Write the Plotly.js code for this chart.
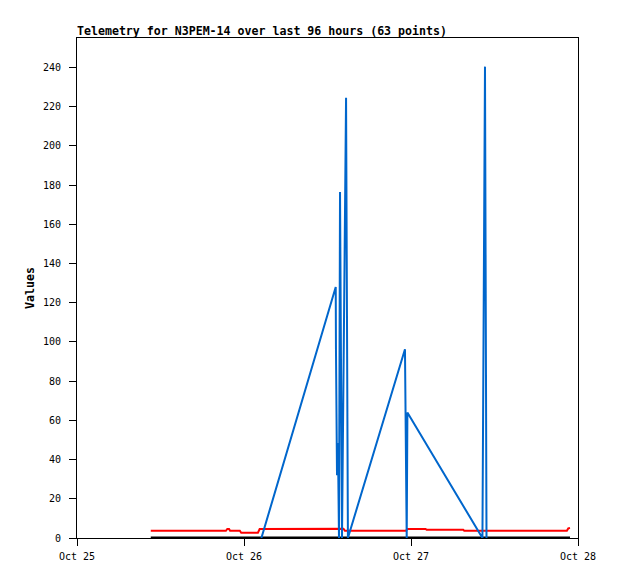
<!DOCTYPE html>
<html>
<head>
<meta charset="utf-8">
<script src="https://cdn.plot.ly/plotly-3.0.1.min.js"></script>
<style>html,body{margin:0;padding:0;background:#fff;}#chart{width:618px;height:579px;}</style>
</head>
<body>
<div id="chart"></div>
<script>
// Series 1 (red)
const redTimes = ["2023-10-25 10:36","2023-10-25 21:24","2023-10-25 21:36","2023-10-25 21:51","2023-10-25 22:00","2023-10-25 23:24","2023-10-25 23:36","2023-10-26 02:00","2023-10-26 02:15","2023-10-26 14:18","2023-10-26 14:30","2023-10-26 23:18","2023-10-26 23:27","2023-10-27 02:06","2023-10-27 02:15","2023-10-27 07:30","2023-10-27 07:39","2023-10-27 22:24","2023-10-27 22:36","2023-10-27 22:51"];
const redValues = [3.7,3.7,4.6,4.6,3.7,3.7,2.7,2.7,4.6,4.7,3.7,3.7,4.6,4.6,4.2,4.2,3.7,3.7,4.9,5.1];
// Series 2 (black)
const blackTimes = ["2023-10-25 10:36","2023-10-26 12:00","2023-10-27 22:51"];
const blackValues = [0,0,0];
// Series 3 (blue)
const blueTimes = ["2023-10-26 02:30","2023-10-26 13:11","2023-10-26 13:13","2023-10-26 13:22","2023-10-26 13:30","2023-10-26 13:39","2023-10-26 13:48","2023-10-26 13:56","2023-10-26 14:05","2023-10-26 14:40","2023-10-26 14:48","2023-10-26 14:56","2023-10-26 23:08","2023-10-26 23:11","2023-10-26 23:17","2023-10-26 23:23","2023-10-26 23:29","2023-10-27 10:16","2023-10-27 10:38","2023-10-27 10:46","2023-10-27 10:51"];
const blueValues = [0,128,96,32,48.5,0,176.5,88,0,224.5,112,0,96.3,72,24.5,0,64,0,240.4,120.5,0];

const xTickVals = ["2023-10-25","2023-10-26","2023-10-27","2023-10-28"];
const xTickText = ["Oct 25","Oct 26","Oct 27","Oct 28"];
const titleText = "Telemetry for N3PEM-14 over last 96 hours (63 points)";
const yTitle = "Values";

const traces = [
  {x: redTimes, y: redValues, type: "scatter", mode: "lines", line: {color: "#ff0000", width: 2}, cliponaxis: false, hoverinfo: "skip"},
  {x: blackTimes, y: blackValues, type: "scatter", mode: "lines", line: {color: "#000000", width: 3}, cliponaxis: false, hoverinfo: "skip"},
  {x: blueTimes, y: blueValues, type: "scatter", mode: "lines", line: {color: "#0066cc", width: 2}, cliponaxis: false, hoverinfo: "skip"}
];

const layout = {
  width: 618, height: 579,
  paper_bgcolor: "#ffffff", plot_bgcolor: "#ffffff",
  showlegend: false,
  margin: {l: 77, r: 40, t: 38, b: 41, pad: 0},
  font: {family: "DejaVu Sans Mono", size: 10, color: "#000"},
  title: {text: "<b>" + titleText + "</b>", font: {family: "DejaVu Sans Mono", size: 11.6, color: "#000"},
          xref: "paper", x: 0, xanchor: "left", yref: "container", y: 1 - 31/579, yanchor: "middle"},
  xaxis: {type: "date", range: ["2023-10-25", "2023-10-28"], tickmode: "array", tickvals: xTickVals, ticktext: xTickText,
          showgrid: false, zeroline: false, showline: true, linecolor: "#000", linewidth: 1, mirror: true,
          ticks: "outside", ticklen: 7, tickcolor: "#000", tickfont: {family: "DejaVu Sans Mono", size: 10, color: "#000"}, ticklabelstandoff: 2},
  yaxis: {range: [0, 255], tickmode: "linear", tick0: 0, dtick: 20,
          showgrid: false, zeroline: false, showline: true, linecolor: "#000", linewidth: 1, mirror: true,
          ticks: "outside", ticklen: 7, tickcolor: "#000", tickfont: {family: "DejaVu Sans Mono", size: 10, color: "#000"}, ticklabelstandoff: 6,
          title: {text: "<b>" + yTitle + "</b>", font: {family: "DejaVu Sans Mono", size: 11.6, color: "#000"}, standoff: 5}}
};

Plotly.newPlot("chart", traces, layout, {staticPlot: true, displayModeBar: false});
</script>
</body>
</html>
